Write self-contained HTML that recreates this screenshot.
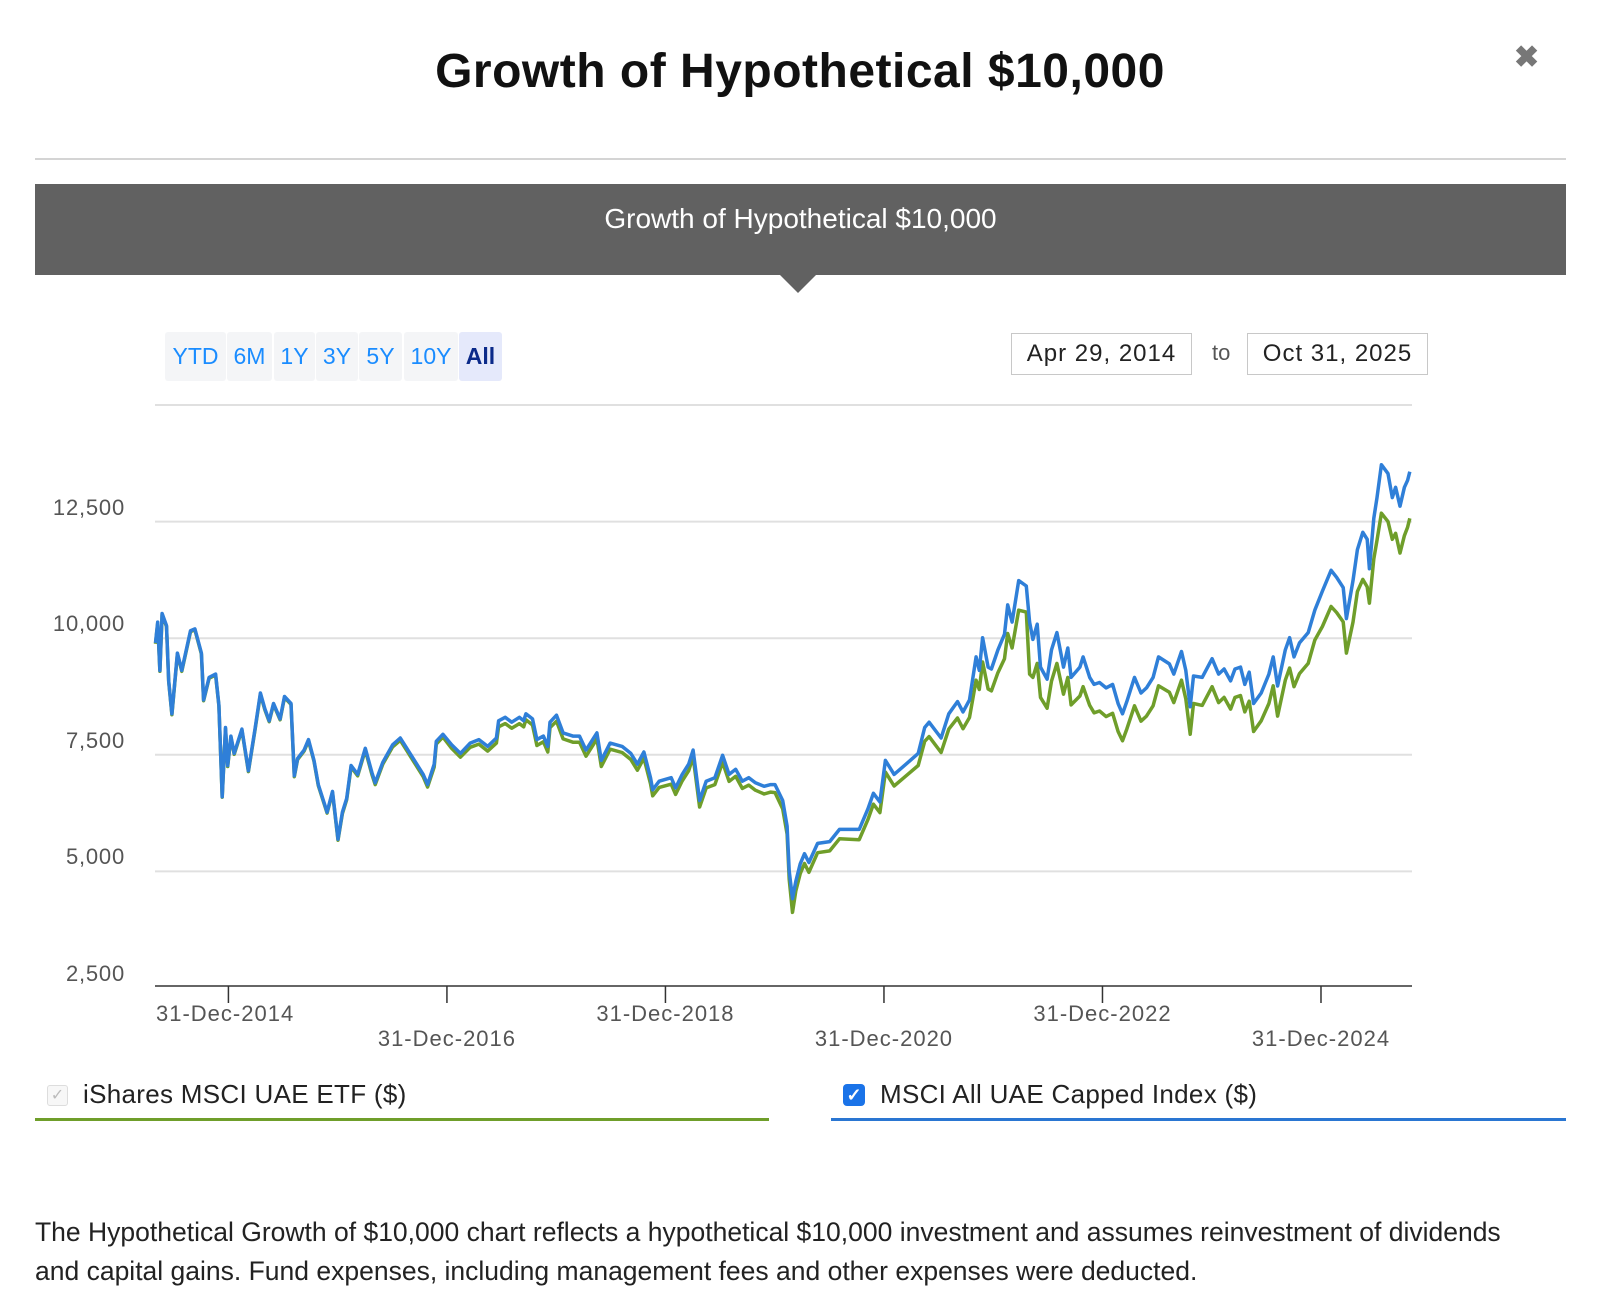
<!DOCTYPE html>
<html><head><meta charset="utf-8">
<style>
html,body{margin:0;padding:0;background:#fff;}
body{width:1600px;height:1304px;position:relative;overflow:hidden;font-family:"Liberation Sans",sans-serif;}
.abs{position:absolute;}
.btn{position:absolute;top:332px;height:49px;background:#f4f5f7;border-radius:3px;color:#1a8cff;font-size:23px;line-height:49px;text-align:center;}
.ylab{position:absolute;right:1475px;font-size:22px;color:#555;letter-spacing:0.8px;}
.xlab{position:absolute;font-size:22px;color:#555;letter-spacing:1px;white-space:nowrap;}
</style></head>
<body>
<div class="abs" style="left:0;width:1600px;top:44px;text-align:center;font-size:48px;font-weight:900;color:#111;letter-spacing:0.5px;">Growth of Hypothetical $10,000</div>
<div class="abs" style="left:1514px;top:40px;font-size:30px;font-weight:bold;color:#777;">✖</div>
<div class="abs" style="left:35px;top:158px;width:1531px;height:2px;background:#d4d4d4;"></div>
<div class="abs" style="left:35px;top:184px;width:1531px;height:91px;background:#616161;color:#fff;font-size:28px;text-align:center;line-height:70px;">Growth of Hypothetical $10,000</div>
<div class="abs" style="left:780px;top:275px;width:0;height:0;border-left:18px solid transparent;border-right:18px solid transparent;border-top:18px solid #616161;"></div>

<div class="btn" style="left:165px;width:61px;">YTD</div>
<div class="btn" style="left:227px;width:45px;">6M</div>
<div class="btn" style="left:274px;width:41px;">1Y</div>
<div class="btn" style="left:316px;width:42px;">3Y</div>
<div class="btn" style="left:359px;width:43px;">5Y</div>
<div class="btn" style="left:404px;width:54px;">10Y</div>
<div class="btn" style="left:459px;width:43px;background:#e5e9fb;color:#0b2a8a;font-weight:bold;">All</div>

<div class="abs" style="left:1011px;top:333px;width:179px;height:40px;border:1px solid #c8c8c8;font-size:24px;line-height:40px;text-align:center;color:#222;letter-spacing:1px;">Apr 29, 2014</div>
<div class="abs" style="left:1212px;top:333px;font-size:22px;line-height:40px;color:#555;">to</div>
<div class="abs" style="left:1247px;top:333px;width:179px;height:40px;border:1px solid #c8c8c8;font-size:24px;line-height:40px;text-align:center;color:#222;letter-spacing:1px;">Oct 31, 2025</div>

<svg class="abs" style="left:0;top:0" width="1600" height="1304">
<g id="grid"></g><g id="lines"></g><g id="axis"></g>
</svg>
<div id="labels"></div>

<div class="abs" style="left:47px;top:1085px;width:19px;height:19px;border:1px solid #ddd;border-radius:3px;background:#f7f7f7;color:#bbb;font-size:16px;line-height:19px;text-align:center;">✓</div>
<div class="abs" style="left:83px;top:1079px;font-size:26px;color:#222;letter-spacing:0.3px;">iShares MSCI UAE ETF ($)</div>
<div class="abs" style="left:35px;top:1118px;width:734px;height:3px;background:#6f9e2a;"></div>
<div class="abs" style="left:843px;top:1084px;width:22px;height:22px;border-radius:4px;background:#1a73e8;color:#fff;font-size:18px;line-height:22px;text-align:center;font-weight:bold;">✓</div>
<div class="abs" style="left:880px;top:1079px;font-size:26px;color:#222;letter-spacing:0.3px;">MSCI All UAE Capped Index ($)</div>
<div class="abs" style="left:831px;top:1118px;width:735px;height:3px;background:#2a76d2;"></div>

<div class="abs" style="left:35px;top:1213px;width:1500px;font-size:26.5px;line-height:39px;color:#222;">The Hypothetical Growth of $10,000 chart reflects a hypothetical $10,000 investment and assumes reinvestment of dividends and capital gains. Fund expenses, including management fees and other expenses were deducted.</div>

<script>
const dates=[2014.33,2014.35,2014.37,2014.39,2014.43,2014.45,2014.48,2014.53,2014.57,2014.65,2014.69,2014.75,2014.77,2014.82,2014.88,2014.91,2014.94,2014.97,2014.99,2015.02,2015.05,2015.12,2015.18,2015.24,2015.29,2015.33,2015.37,2015.41,2015.47,2015.51,2015.57,2015.60,2015.63,2015.69,2015.73,2015.78,2015.82,2015.86,2015.90,2015.95,2016.00,2016.04,2016.08,2016.12,2016.18,2016.25,2016.31,2016.34,2016.41,2016.50,2016.57,2016.63,2016.71,2016.78,2016.82,2016.88,2016.90,2016.96,2017.04,2017.12,2017.21,2017.29,2017.37,2017.45,2017.47,2017.53,2017.59,2017.66,2017.70,2017.72,2017.78,2017.82,2017.88,2017.92,2017.94,2018.00,2018.06,2018.15,2018.21,2018.27,2018.37,2018.41,2018.49,2018.60,2018.68,2018.74,2018.80,2018.86,2018.88,2018.94,2019.05,2019.09,2019.15,2019.21,2019.25,2019.31,2019.37,2019.45,2019.52,2019.58,2019.64,2019.70,2019.76,2019.82,2019.90,2019.96,2020.00,2020.07,2020.11,2020.13,2020.16,2020.19,2020.23,2020.27,2020.31,2020.39,2020.50,2020.59,2020.77,2020.85,2020.90,2020.96,2021.01,2021.09,2021.20,2021.31,2021.37,2021.41,2021.52,2021.59,2021.67,2021.72,2021.78,2021.84,2021.87,2021.90,2021.95,2021.98,2022.04,2022.10,2022.13,2022.17,2022.23,2022.30,2022.33,2022.36,2022.40,2022.43,2022.49,2022.53,2022.58,2022.64,2022.68,2022.71,2022.79,2022.82,2022.88,2022.92,2022.97,2023.03,2023.09,2023.14,2023.18,2023.22,2023.29,2023.35,2023.40,2023.46,2023.51,2023.61,2023.65,2023.72,2023.76,2023.80,2023.83,2023.91,2024.00,2024.06,2024.11,2024.17,2024.21,2024.26,2024.30,2024.34,2024.38,2024.45,2024.52,2024.56,2024.60,2024.67,2024.71,2024.75,2024.80,2024.88,2024.94,2025.01,2025.09,2025.14,2025.20,2025.23,2025.29,2025.33,2025.38,2025.42,2025.44,2025.48,2025.51,2025.55,2025.61,2025.65,2025.68,2025.72,2025.76,2025.79,2025.81];
const indexValues=[9900,10345,9307,10530,10270,9085,8380,9680,9310,10160,10200,9680,8677,9160,9230,8565,6600,8085,7270,7900,7530,8050,7160,8050,8825,8490,8230,8600,8270,8750,8600,7050,7420,7600,7825,7380,6860,6565,6270,6715,5690,6270,6565,7270,7080,7640,7120,6900,7340,7715,7860,7640,7340,7080,6860,7300,7790,7940,7715,7530,7750,7825,7680,7860,8230,8305,8200,8305,8230,8380,8270,7825,7900,7680,8200,8350,7970,7900,7900,7600,7970,7380,7750,7680,7530,7300,7560,7010,6750,6935,7010,6790,7080,7300,7600,6520,6935,7010,7490,7080,7190,6935,7010,6900,6825,6860,6860,6520,5970,5010,4415,4785,5160,5380,5190,5600,5640,5900,5900,6340,6675,6490,7380,7080,7300,7530,8085,8200,7860,8380,8640,8420,8677,9600,9310,10010,9380,9340,9750,10085,10715,10345,11235,11120,10345,9975,10300,9380,9120,9750,10120,9380,9790,9160,9380,9600,9160,9010,9050,8935,9010,8600,8380,8640,9160,8825,8935,9160,9600,9450,9230,9715,9310,8530,9190,9160,9560,9230,9340,9085,9340,9380,9010,9270,8600,8825,9230,9600,8975,9750,10010,9600,9900,10120,10600,11010,11455,11305,11085,10420,11235,11900,12270,12120,11490,12570,13015,13720,13530,13015,13235,12830,13235,13385,13570];
const etfValues=[9880,10320,9290,10500,10250,9070,8360,9660,9290,10140,10180,9660,8660,9140,9210,8550,6590,8060,7250,7880,7510,8030,7140,8030,8800,8470,8210,8580,8250,8730,8580,7030,7400,7580,7800,7360,6840,6545,6250,6690,5670,6240,6540,7240,7050,7600,7080,6860,7300,7670,7810,7590,7290,7030,6810,7240,7730,7880,7640,7450,7660,7730,7580,7750,8100,8170,8070,8170,8100,8250,8140,7700,7780,7560,8080,8220,7840,7770,7770,7470,7840,7250,7620,7550,7400,7170,7430,6880,6620,6800,6870,6650,6940,7160,7460,6380,6790,6860,7340,6930,7040,6780,6850,6740,6660,6700,6690,6340,5800,4830,4120,4580,4950,5170,4980,5400,5440,5700,5680,6110,6440,6260,7130,6830,7050,7270,7790,7890,7550,8050,8290,8060,8300,9100,8900,9490,8910,8870,9260,9560,10100,9790,10600,10560,9230,9160,9460,8730,8500,9080,9460,8800,9160,8570,8760,8960,8560,8400,8440,8320,8390,8000,7800,8050,8550,8220,8330,8550,8980,8840,8620,9100,8700,7940,8600,8560,8960,8620,8730,8480,8730,8770,8420,8650,8000,8230,8600,8980,8330,9100,9360,8960,9240,9460,9960,10250,10680,10550,10350,9680,10345,11000,11260,11100,10750,11700,12100,12680,12500,12120,12250,11825,12200,12380,12570];
const yTicks=[2500,5000,7500,10000,12500,15000];
const yTickLabels=["2,500","5,000","7,500","10,000","12,500",""];
const xTicks=[2014.997,2016.997,2018.997,2020.997,2022.997,2024.997];
const xTickLabels=["31-Dec-2014","31-Dec-2016","31-Dec-2018","31-Dec-2020","31-Dec-2022","31-Dec-2024"];

const X0=155,X1=1412,D0=2014.325,D1=2025.83;
const Y0=988,Y1=405,V0=2500,V1=15000;
function xs(d){return X0+(d-D0)/(D1-D0)*(X1-X0);}
function ys(v){return Y0-(v-V0)/(V1-V0)*(Y0-Y1);}
const NS="http://www.w3.org/2000/svg";
const grid=document.getElementById('grid'),lines=document.getElementById('lines'),axis=document.getElementById('axis'),labels=document.getElementById('labels');
yTicks.forEach((v,i)=>{
  if(i>0){
    const l=document.createElementNS(NS,'line');
    l.setAttribute('x1',X0);l.setAttribute('x2',X1);l.setAttribute('y1',ys(v));l.setAttribute('y2',ys(v));
    l.setAttribute('stroke','#e0e0e0');l.setAttribute('stroke-width','2');
    
    
    grid.appendChild(l);
  }
  if(yTickLabels[i]){
    const t=document.createElement('div');t.className='ylab';
    t.style.top=(ys(v)-27)+'px';t.textContent=yTickLabels[i];
    
    
    labels.appendChild(t);
  }
});
function path(vals,color,name){
  let d='';
  vals.forEach((v,i)=>{d+=(i?'L':'M')+xs(dates[i]).toFixed(1)+','+ys(v).toFixed(1);});
  const p=document.createElementNS(NS,'path');
  p.setAttribute('d',d);p.setAttribute('fill','none');p.setAttribute('stroke',color);
  p.setAttribute('stroke-width','3.5');p.setAttribute('stroke-linejoin','round');
  
  
  lines.appendChild(p);
}
path(etfValues,'#6f9e2a','etf-series-line');
path(indexValues,'#2f7fd8','index-series-line');
const ax=document.createElementNS(NS,'line');
ax.setAttribute('x1',X0);ax.setAttribute('x2',X1);ax.setAttribute('y1',986);ax.setAttribute('y2',986);
ax.setAttribute('stroke','#333');ax.setAttribute('stroke-width','1.5');


axis.appendChild(ax);
xTicks.forEach((d,i)=>{
  const x=xs(d);
  const t=document.createElementNS(NS,'line');
  t.setAttribute('x1',x);t.setAttribute('x2',x);t.setAttribute('y1',986);t.setAttribute('y2',1003);
  t.setAttribute('stroke','#333');t.setAttribute('stroke-width','1.5');
  
  
  axis.appendChild(t);
  const lab=document.createElement('div');lab.className='xlab';
  lab.textContent=xTickLabels[i];
  const top=(i%2===0)?1001:1026;
  lab.style.top=top+'px';
  if(i===0){lab.style.left='156px';}
  else{lab.style.left=(x-80)+'px';lab.style.width='160px';lab.style.textAlign='center';}
  
  
  labels.appendChild(lab);
});
</script>
</body></html>
